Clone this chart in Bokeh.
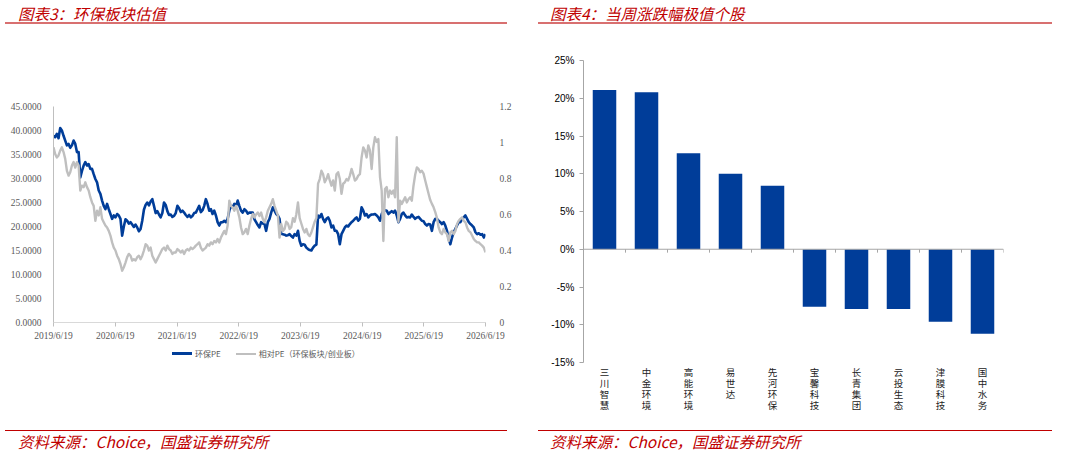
import pandas as pd
from bokeh.plotting import figure
from bokeh.models import (Range1d, FixedTicker, Div, LinearAxis,
                          FactorRange, NumeralTickFormatter, CustomJSTickFormatter,
                          ColumnDataSource, Span, CategoricalAxis)
from bokeh.transform import dodge
from bokeh.layouts import row, column
from bokeh.embed import file_html
from bokeh.resources import INLINE

# ---------------- data: left chart (环保板块估值) ----------------
title_left = "图表3：环保板块估值"
title_right = "图表4：当周涨跌幅极值个股"
source_note = "资料来源：Choice，国盛证券研究所"

start_date = "2019-06-19"
end_date = "2026-06-19"

pe_env = [
    38.9, 38.6, 39.3, 38.4, 40.5, 40.0, 38.9, 37.9, 36.9, 37.2,
    36.4, 36.9, 37.9, 37.2, 35.5, 35.5, 30.2, 31.6, 32.7, 33.4,
    32.7, 33.0, 32.0, 32.0, 30.9, 29.9, 29.2, 27.5, 26.8, 25.4,
    24.3, 23.6, 24.7, 23.6, 22.6, 21.6, 22.3, 21.9, 22.6, 22.3,
    21.6, 18.1, 20.0, 21.5, 21.2, 20.6, 20.9, 20.4, 19.9, 20.4,
    19.8, 19.0, 19.5, 21.2, 23.5, 24.5, 25.0, 24.4, 25.2, 25.7,
    24.3, 22.8, 23.2, 22.5, 21.9, 22.8, 25.0, 24.5, 23.2, 22.4,
    22.5, 22.0, 22.2, 22.8, 24.3, 23.8, 23.0, 23.3, 22.9, 22.4,
    22.0, 22.4, 21.9, 22.2, 22.8, 22.9, 23.6, 24.3, 23.0, 23.4,
    24.3, 25.7, 24.7, 23.3, 23.6, 22.6, 23.3, 22.3, 20.9, 20.2,
    20.9, 20.9, 21.2, 20.9, 21.6, 23.3, 24.3, 24.0, 24.7, 24.3,
    25.4, 24.3, 23.3, 22.9, 23.6, 23.3, 22.7, 22.9, 22.9, 22.9,
    21.5, 20.9, 20.3, 19.8,
    20.9, 20.6, 20.5, 19.1, 20.9, 21.6, 22.9, 24.0, 23.3, 22.6,
    22.3, 21.6, 18.5, 18.4, 18.3, 18.1, 18.2, 18.4, 18.0, 17.7,
    18.4, 18.1, 19.1, 17.0, 16.0, 16.3, 16.2, 15.6, 15.3, 15.1,
    15.0, 15.6, 16.0, 16.2, 22.3, 21.9, 22.6, 21.6, 20.9, 21.6,
    21.9, 21.2, 19.8, 20.2, 19.1, 19.1, 18.4, 16.3, 18.4, 19.1,
    19.8, 20.2, 20.0, 20.5, 20.9, 21.2, 21.6, 21.9, 21.2, 21.6,
    24.0, 23.3, 22.3, 22.6, 21.9, 22.3, 22.5, 22.5, 22.6, 22.3,
    21.9, 21.2, 22.6, 23.3, 23.4, 23.3, 22.6, 22.9, 23.2, 22.9,
    23.3, 22.3, 20.9, 21.6, 22.6, 22.9, 22.3, 21.9, 22.0, 21.9,
    22.5, 22.0, 21.6, 21.9, 22.0, 21.6, 21.2, 21.1, 20.5, 20.2,
    20.5, 20.4, 19.1, 20.9, 21.6, 21.6, 21.2, 20.9, 20.5, 20.9,
    20.2, 19.1, 17.4, 16.3, 17.7, 18.8, 19.5, 20.2, 20.9, 20.9,
    21.6, 21.9, 22.3, 21.6, 20.9, 20.5, 20.2, 19.8, 18.8, 18.4,
    18.6, 18.3, 18.4, 17.7, 18.4,
]

rel_pe = [
    0.973, 0.936, 0.917, 0.928, 0.955, 0.973, 0.947, 0.909, 0.843, 0.816,
    0.835, 0.872, 0.891, 0.861, 0.891, 0.872, 0.733, 0.760, 0.752, 0.779,
    0.752, 0.733, 0.696, 0.667, 0.648, 0.565, 0.621, 0.595, 0.640, 0.576,
    0.557, 0.539, 0.528, 0.509, 0.483, 0.445, 0.416, 0.400, 0.371, 0.352,
    0.325, 0.288, 0.307, 0.333, 0.363, 0.381, 0.371, 0.344, 0.352, 0.344,
    0.363, 0.371, 0.352, 0.371, 0.400, 0.435, 0.427, 0.400, 0.416, 0.371,
    0.352, 0.333, 0.352, 0.371, 0.389, 0.408, 0.416, 0.400, 0.427, 0.408,
    0.400, 0.381, 0.389, 0.389, 0.408, 0.400, 0.389, 0.400, 0.381, 0.400,
    0.408, 0.400, 0.416, 0.408, 0.416, 0.427, 0.435, 0.445, 0.416, 0.400,
    0.408, 0.416, 0.435, 0.427, 0.445, 0.435, 0.453, 0.445, 0.464, 0.445,
    0.472, 0.491, 0.509, 0.491, 0.539, 0.677, 0.648, 0.640, 0.621, 0.648,
    0.621, 0.584, 0.528, 0.491, 0.501, 0.520, 0.491, 0.539, 0.576, 0.603,
    0.584, 0.600, 0.611, 0.592,
    0.611, 0.576, 0.557, 0.584, 0.621, 0.640, 0.659, 0.685, 0.648, 0.621,
    0.595, 0.472, 0.547, 0.509, 0.520, 0.560, 0.550, 0.520, 0.530, 0.580,
    0.560, 0.600, 0.667, 0.580, 0.550, 0.520, 0.500, 0.520, 0.490, 0.480,
    0.500, 0.530, 0.560, 0.580, 0.771, 0.797, 0.843, 0.824, 0.779, 0.797,
    0.824, 0.789, 0.760, 0.789, 0.733, 0.824, 0.835, 0.797, 0.715, 0.771,
    0.779, 0.797, 0.789, 0.816, 0.853, 0.824, 0.789, 0.797, 0.816, 0.824,
    0.917, 0.973, 0.955, 0.917, 0.984, 0.955, 0.853, 0.973, 1.029, 1.003,
    1.019, 0.808, 0.733, 0.453, 0.741, 0.752, 0.696, 0.733, 0.715, 0.733,
    0.696, 1.029, 0.560, 0.677, 0.659, 0.677, 0.696, 0.667, 0.685, 0.696,
    0.677, 0.760, 0.821, 0.861, 0.853, 0.835, 0.843, 0.827, 0.789, 0.752,
    0.715, 0.680, 0.659, 0.640, 0.613, 0.581, 0.528, 0.501, 0.491, 0.520,
    0.501, 0.491, 0.453, 0.501, 0.509, 0.491, 0.509, 0.547, 0.565, 0.576,
    0.584, 0.565, 0.557, 0.528, 0.509, 0.501, 0.483, 0.464, 0.453, 0.445,
    0.445, 0.435, 0.427, 0.416, 0.389,
]

x_tick_dates = ["2019-06-19", "2020-06-19", "2021-06-19", "2022-06-19",
                "2023-06-19", "2024-06-19", "2025-06-19", "2026-06-19"]
x_tick_labels = ["2019/6/19", "2020/6/19", "2021/6/19", "2022/6/19",
                 "2023/6/19", "2024/6/19", "2025/6/19", "2026/6/19"]
left_ticks = [0, 5, 10, 15, 20, 25, 30, 35, 40, 45]
right_ticks = [0, 0.2, 0.4, 0.6, 0.8, 1.0, 1.2]
right_tick_labels = ["0", "0.2", "0.4", "0.6", "0.8", "1", "1.2"]
series_names = ["环保PE", "相对PE（环保板块/创业板）"]

# ---------------- data: right chart (当周涨跌幅极值个股) ----------------
stocks = ["三川智慧", "中金环境", "高能环境", "易世达", "先河环保",
          "宝馨科技", "长青集团", "云投生态", "津膜科技", "国中水务"]
weekly_change = [21.1, 20.8, 12.7, 10.0, 8.4, -7.6, -7.9, -7.9, -9.6, -11.2]
bar_ticks = [-15, -10, -5, 0, 5, 10, 15, 20, 25]

# ---------------- styles ----------------
BLUE = "#003D99"
GREY = "#BFBFBF"
RED = "#C00000"
AXIS_GREY = "#A6A6A6"
CJK = "Noto Sans CJK SC"

# ---------------- left figure ----------------
dates_pe = pd.date_range(start_date, end_date, periods=len(pe_env))
dates_rel = pd.date_range(start_date, end_date, periods=len(rel_pe))

p1 = figure(width=533, height=320, x_axis_type="datetime",
            x_range=Range1d(pd.Timestamp(start_date), pd.Timestamp(end_date)),
            y_range=Range1d(0, 45),
            output_backend="svg", toolbar_location=None,
            min_border_left=53, min_border_right=48,
            min_border_top=82, min_border_bottom=22)
p1.extra_y_ranges = {"rel": Range1d(0, 1.2)}
p1.outline_line_color = None
p1.grid.visible = False

r_blue = p1.line(dates_pe, pe_env, color=BLUE, line_width=2.6, line_join="round")
r_grey = p1.line(dates_rel, rel_pe, color=GREY, line_width=2.4, line_join="round",
                 y_range_name="rel")

tick_ms = [float(pd.Timestamp(d).value // 10**6) for d in x_tick_dates]
xa = p1.xaxis[0]
xa.ticker = FixedTicker(ticks=tick_ms)
xa.major_label_overrides = {t: l for t, l in zip(tick_ms, x_tick_labels)}
xa.axis_line_color = "#D9D9D9"
xa.major_tick_line_color = "#BFBFBF"
xa.major_tick_out = 4
xa.major_tick_in = 0
xa.minor_tick_line_color = None
xa.major_label_text_font = "Liberation Serif"
xa.major_label_text_font_size = "9.5px"
xa.major_label_text_color = "#595959"
xa.major_label_standoff = 4

ya = p1.yaxis[0]
ya.ticker = FixedTicker(ticks=left_ticks)
ya.formatter = NumeralTickFormatter(format="0.0000")
ya.axis_line_color = "#BFBFBF"
ya.major_tick_line_color = None
ya.minor_tick_line_color = None
ya.major_label_text_font = "Liberation Serif"
ya.major_label_text_font_size = "9.5px"
ya.major_label_text_color = "#595959"
ya.major_label_standoff = 6

ra = LinearAxis(y_range_name="rel", ticker=FixedTicker(ticks=right_ticks))
ra.major_label_overrides = {t: l for t, l in zip(right_ticks, right_tick_labels)}
ra.axis_line_color = None
ra.major_tick_line_color = None
ra.minor_tick_line_color = None
ra.major_label_text_font = "Liberation Serif"
ra.major_label_text_font_size = "9.5px"
ra.major_label_text_color = "#595959"
ra.major_label_standoff = 8
p1.add_layout(ra, "right")

# legend below the plot (HTML, matching the series styles)
def legend_entry(color, label, thick):
    return (f'<span style="display:inline-block;width:20px;height:{thick}px;'
            f'background:{color};vertical-align:middle;margin-right:3px;"></span>'
            f'<span style="vertical-align:middle;margin-right:15px;">{label}</span>')

legend_div = Div(text=(f'<div style="width:533px;height:14px;padding-left:172px;'
                       f'box-sizing:border-box;line-height:14px;white-space:nowrap;'
                       f"font-family:'{CJK}';font-size:8px;color:#595959;\">"
                       + legend_entry(BLUE, series_names[0], 3)
                       + legend_entry(GREY, series_names[1], 2)
                       + '</div>'),
                 width=533, height=14, margin=(0, 0, 0, 0))
gap_div = Div(text="", width=533, height=72, margin=(0, 0, 0, 0))

# ---------------- right figure ----------------
src = ColumnDataSource(dict(stock=stocks, change=weekly_change,
                            base=[0] * len(stocks)))

p2 = figure(width=532, height=406, x_range=FactorRange(*stocks),
            y_range=Range1d(-15, 25),
            output_backend="svg", toolbar_location=None,
            min_border_left=50, min_border_right=62,
            min_border_top=36, min_border_bottom=68)
p2.outline_line_color = None
p2.grid.visible = False
p2.vbar(x="stock", top="change", width=0.56, color=BLUE, line_color=None, source=src)

# zero line with boundary ticks between categories
p2.add_layout(Span(location=0, dimension="width", line_color=AXIS_GREY, line_width=1))
p2.segment(x0=dodge("stock", 0.5, range=p2.x_range), y0="base",
           x1=dodge("stock", 0.5, range=p2.x_range), y1=-0.45,
           line_color=AXIS_GREY, line_width=1, source=src)

# category names written vertically: one axis row per character
n_rows = max(len(s) for s in stocks)
for i in range(n_rows):
    ax = p2.below[0] if i == 0 else CategoricalAxis()
    ax.axis_line_color = None
    ax.major_tick_line_color = None
    ax.minor_tick_line_color = None
    ax.major_tick_in = 0
    ax.major_tick_out = 0
    ax.formatter = CustomJSTickFormatter(args=dict(k=i),
                                         code="return k < tick.length ? tick[k] : ' ';")
    ax.major_label_text_font = CJK
    ax.major_label_text_font_size = "9.5px"
    ax.major_label_text_color = "#222222"
    ax.major_label_standoff = 2 if i == 0 else -6
    if i > 0:
        p2.add_layout(ax, "below")

ya2 = p2.left[0]
ya2.ticker = FixedTicker(ticks=bar_ticks)
ya2.formatter = CustomJSTickFormatter(code="return tick + '%';")
ya2.axis_line_color = AXIS_GREY
ya2.major_tick_line_color = AXIS_GREY
ya2.major_tick_out = 4
ya2.major_tick_in = 0
ya2.minor_tick_line_color = None
ya2.major_label_text_font = "Liberation Sans"
ya2.major_label_text_font_size = "10px"
ya2.major_label_text_color = "#000000"
ya2.major_label_standoff = 5

# ---------------- titles & footers ----------------
def title_div(text, width, line_w, pad):
    return Div(text=(f'<div style="width:{line_w}px;height:24px;margin-left:5px;'
                     f'padding-left:{pad}px;padding-top:3px;box-sizing:border-box;'
                     f'border-bottom:2px solid #D87070;line-height:20px;'
                     f"font-family:'{CJK}';font-style:italic;font-size:15.5px;"
                     f'color:{RED};white-space:nowrap;">{text}</div>'),
               width=width, height=24, margin=(0, 0, 0, 0))

def footer_div(text, width, line_w, pad):
    return Div(text=(f'<div style="width:{line_w}px;height:24px;margin-left:5px;'
                     f'padding-left:{pad}px;box-sizing:border-box;'
                     f'border-top:1.5px solid {RED};line-height:21px;'
                     f"font-family:'{CJK}';font-style:italic;font-size:15.5px;"
                     f'color:{RED};white-space:nowrap;">{text}</div>'),
               width=width, height=24, margin=(0, 0, 0, 0))

left_col = column(title_div(title_left, 533, 502, 13), p1, legend_div, gap_div,
                  footer_div(source_note, 533, 502, 13), spacing=0)
right_col = column(title_div(title_right, 532, 514, 12), p2,
                   footer_div(source_note, 532, 514, 12), spacing=0)
layout = row(left_col, right_col, spacing=0)

open("out.html", "w").write(file_html(layout, INLINE))
